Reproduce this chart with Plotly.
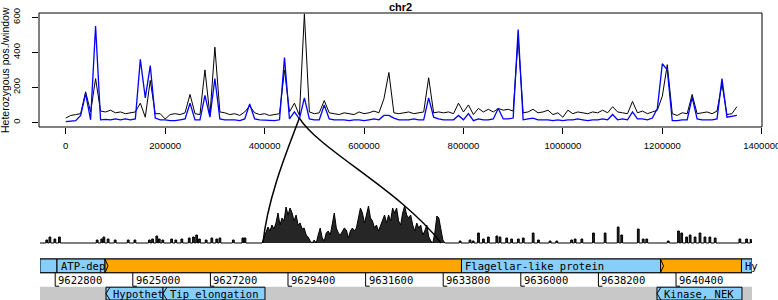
import plotly.graph_objects as go

W, H = 778, 300

# ---------------- top panel: heterozygous positions per 10 kb window ----------------
win_pos = list(range(0, 1350001, 10000))
black_vals = [25, 40, 45, 50, 175, 60, 250, 65, 60, 70,
              55, 60, 50, 55, 60, 110, 30, 240, 50, 50,
              20, 45, 50, 45, 55, 160, 50, 45, 300, 40,
              430, 60, 55, 45, 50, 40, 60, 95, 55, 45,
              50, 40, 45, 50, 300, 60, 110, 40, 620, 60,
              50, 55, 125, 55, 50, 45, 55, 50, 45, 60,
              50, 55, 65, 55, 135, 285, 55, 50, 55, 60,
              50, 55, 60, 255, 55, 60, 55, 60, 50, 110,
              60, 100, 45, 80, 60, 75, 60, 80, 70, 75,
              65, 480, 55, 60, 75, 55, 60, 70, 45, 55,
              30, 70, 50, 60, 55, 50, 60, 55, 70, 55,
              90, 60, 55, 50, 120, 55, 65, 50, 60, 70,
              150, 330, 50, 40, 55, 50, 160, 50, 55, 60,
              50, 65, 220, 45, 50, 90]
blue_vals = [5, 8, 10, 40, 165, 15, 550, 15, 18, 15,
             20, 15, 20, 15, 20, 360, 140, 325, 25, 15,
             15, 10, 10, 15, 20, 110, 15, 15, 155, 30,
             250, 20, 15, 15, 15, 10, 20, 105, 20, 15,
             15, 12, 10, 15, 370, 20, 60, 20, 140, 20,
             15, 15, 100, 20, 15, 15, 15, 10, 15, 15,
             10, 15, 20, 15, 40, 40, 25, 15, 15, 15,
             20, 15, 15, 140, 30, 20, 15, 15, 15, 40,
             15, 50, 10, 20, 15, 15, 20, 80, 20, 20,
             25, 530, 15, 20, 25, 15, 15, 15, 10, 15,
             10, 15, 15, 20, 15, 10, 15, 15, 20, 15,
             45, 15, 20, 15, 60, 20, 20, 15, 25, 80,
             335, 300, 10, 10, 15, 15, 145, 20, 15, 15,
             15, 20, 250, 30, 35, 40]
top_xticks = [0, 200000, 400000, 600000, 800000, 1000000, 1200000, 1400000]
top_yticks = [0, 200, 400, 600]
chrom_name = "chr2"
zoom_anchor = (470000, 25)   # where the zoom lines leave the top panel

# ---------------- lower panel: zoomed region (genomic coordinates) ----------------
view_bp = [9622369, 9642554]
sparse_pos = [9622560, 9622650, 9622790, 9622920, 9623990, 9624120, 9624180, 9624300,
              9624500, 9624870, 9625060, 9625470, 9625560, 9625680, 9625750, 9625850,
              9626100, 9626220, 9626390, 9626600, 9626720, 9626810, 9626890, 9627080,
              9627240, 9627380, 9627470, 9627850, 9628120, 9628180,
              9634280, 9634560, 9634650, 9634800, 9634940, 9635080, 9635320, 9635410,
              9635600, 9635740, 9635930, 9636070, 9636350, 9636500, 9636830, 9637020,
              9637440, 9637540, 9637730, 9638060, 9638390, 9638760, 9638860, 9639330,
              9639470, 9639570, 9640180, 9640470, 9640560, 9640700, 9640800, 9640940,
              9641080, 9641220, 9641360, 9641510, 9642210, 9642400, 9642530]
sparse_h = [3, 6, 4, 6, 3, 4, 6, 4,
            3, 3, 3, 3, 4, 7, 4, 3,
            4, 3, 4, 5, 6, 8, 4, 3,
            5, 4, 5, 3, 5, 5,
            2, 3, 2, 10, 4, 6, 7, 6,
            5, 4, 4, 5, 10, 3, 2, 2,
            3, 4, 4, 10, 10, 16, 8, 14,
            4, 4, 2, 12, 10, 6, 8, 6,
            10, 6, 6, 5, 4, 4, 4]
dense_start, dense_step = 9628660, 57
dense_vals = [0, 5, 10, 16, 12, 18, 14, 20, 30, 18,
              25, 22, 36, 28, 35, 30, 22, 28, 18, 20,
              14, 15, 8, 6, 2, 0, 3, 0, 8, 15,
              5, 2, 10, 12, 8, 20, 30, 15, 10, 8,
              12, 15, 13, 5, 12, 15, 12, 15, 25, 35,
              30, 20, 28, 37, 25, 22, 15, 18, 12, 18,
              22, 28, 20, 28, 22, 35, 30, 35, 22, 18,
              30, 37, 28, 25, 28, 18, 12, 20, 15, 18,
              8, 12, 18, 6, 2, 0, 10, 27, 25, 12,
              3, 0]
zoom_region = [9628690, 9633740]

# ---------------- gene track ----------------
g_start = [9622369, 9622851, 9624212, 9634318, 9639960, 9642256, 9624240, 9625856, 9639860]
g_end = [9622851, 9624212, 9634318, 9639960, 9642256, 9642554, 9625856, 9628748, 9642270]
g_label = ["", "ATP-dep", "", "Flagellar-like protein", "", "Hy", "Hypothet", "Tip elongation", "Kinase, NEK"]
g_row = [1, 1, 1, 1, 1, 1, 3, 3, 3]
g_color = ["#87CEFA", "#87CEFA", "#FFA500", "#87CEFA", "#FFA500", "#87CEFA", "#87CEFA", "#87CEFA", "#87CEFA"]
g_arrow = ["", "", ">", "", ">", "", "<", "<", "<"]
coord_ticks = [9622800, 9625000, 9627200, 9629400, 9631600, 9633800, 9636000, 9638200, 9640400]
coord_labels = ["9622800", "9625000", "9627200", "9629400", "9631600", "9633800", "9636000", "9638200", "9640400"]

# ---------------- layout geometry ----------------
X1_DOM = [39 / W, 762 / W]
Y1_DOM = [1 - 127 / H, 1 - 13 / H]
X1_RNG = [-53800, 1400500]
Y1_RNG = [-26, 625]
X2_DOM = [40 / W, 752 / W]
Y2_DOM = [1 - 244 / H, 1 - 195 / H]
Y2_RNG = [-1, 48]
ROWS = {1: (1 - 272.7 / H, 1 - 259 / H), 2: (1 - 286.7 / H, 1 - 272.7 / H), 3: (0, 1 - 286.7 / H)}


def to_paper(v, dom, rng):
    return dom[0] + (v - rng[0]) / (rng[1] - rng[0]) * (dom[1] - dom[0])


fig = go.Figure()
fig.add_trace(go.Scatter(x=win_pos, y=black_vals, mode="lines",
                         line=dict(color="black", width=1), xaxis="x", yaxis="y"))
fig.add_trace(go.Scatter(x=win_pos, y=blue_vals, mode="lines",
                         line=dict(color="#0000FF", width=1.3), xaxis="x", yaxis="y"))

# lower panel line
pts = [(view_bp[0], 0), (view_bp[1], 0)]
for p, h in zip(sparse_pos, sparse_h):
    pts += [(p - 25, 0), (p - 25, h), (p + 25, h), (p + 25, 0)]
for i, v in enumerate(dense_vals):
    pts.append((dense_start + i * dense_step, v))
pts.sort(key=lambda t: t[0])
fig.add_trace(go.Scatter(x=[p[0] for p in pts], y=[p[1] for p in pts], mode="lines",
                         fill="tozeroy", fillcolor="rgba(0,0,0,0.85)",
                         line=dict(color="black", width=1), xaxis="x2", yaxis="y2"))

shapes = []
# box around top panel
shapes.append(dict(type="rect", xref="paper", yref="paper", x0=X1_DOM[0], x1=X1_DOM[1],
                   y0=Y1_DOM[0], y1=Y1_DOM[1], line=dict(color="black", width=1)))

# zoom connector curves
ax = to_paper(zoom_anchor[0], X1_DOM, X1_RNG)
ay = to_paper(zoom_anchor[1], Y1_DOM, Y1_RNG)
lx = to_paper(zoom_region[0], X2_DOM, view_bp)
rx = to_paper(zoom_region[1], X2_DOM, view_bp)
by = to_paper(0, Y2_DOM, Y2_RNG)
def off(x, y, dx, dy):
    return x + dx / W, y - dy / H
l1 = off(ax, ay, -10, 27); l2 = off(lx, by, 5, -48)
r1 = off(ax, ay, 20, 32); r2 = off(rx, by, -41, -53)
shapes.append(dict(type="path", xref="paper", yref="paper",
                   path=f"M{ax},{ay} C{l1[0]},{l1[1]} {l2[0]},{l2[1]} {lx},{by}",
                   line=dict(color="black", width=1.5)))
shapes.append(dict(type="path", xref="paper", yref="paper",
                   path=f"M{ax},{ay} C{r1[0]},{r1[1]} {r2[0]},{r2[1]} {rx},{by}",
                   line=dict(color="black", width=1.5)))

# gene track backgrounds
shapes.append(dict(type="rect", xref="x2", yref="paper", x0=view_bp[0], x1=view_bp[1],
                   y0=ROWS[3][0], y1=ROWS[3][1], fillcolor="#C8C8C8", line=dict(width=0), layer="below"))
shapes.append(dict(type="rect", xref="x2", yref="paper", x0=view_bp[0], x1=view_bp[1],
                   y0=ROWS[1][0], y1=ROWS[1][1], fillcolor="#FFA500", line=dict(color="black", width=1)))

annotations = []
bp_per_px = (view_bp[1] - view_bp[0]) / (X2_DOM[1] - X2_DOM[0]) / W
for s, e, lab, row, col, arr in zip(g_start, g_end, g_label, g_row, g_color, g_arrow):
    y0, y1 = ROWS[row]
    if row == 3:
        y1 = y1 - 0.5 / H
    shapes.append(dict(type="rect", xref="x2", yref="paper", x0=s, x1=e, y0=y0, y1=y1,
                       fillcolor=col, line=dict(color="black", width=1)))
    tx = s + 2 * bp_per_px
    if arr == ">":
        a = s + 3 * bp_per_px
        shapes.append(dict(type="path", xref="x2", yref="paper",
                           path=f"M{s},{y1} L{a},{(y0 + y1) / 2} L{s},{y0}",
                           line=dict(color="black", width=1)))
    elif arr == "<":
        a = s + 4 * bp_per_px
        shapes.append(dict(type="path", xref="x2", yref="paper",
                           path=f"M{a},{y1} L{s},{(y0 + y1) / 2} L{a},{y0}",
                           line=dict(color="black", width=1)))
        tx = s + 5 * bp_per_px
    if lab:
        annotations.append(dict(x=tx, y=(y0 + y1) / 2, xref="x2", yref="paper", text=lab,
                                showarrow=False, xanchor="left", yanchor="middle",
                                font=dict(family="DejaVu Sans Mono", size=10.5, color="black")))

# coordinate ruler
r0, r1_ = ROWS[2]
for t, lab in zip(coord_ticks, coord_labels):
    shapes.append(dict(type="line", xref="x2", yref="paper", x0=t, x1=t, y0=r0 + 0.5 / H, y1=r1_,
                       line=dict(color="black", width=1)))
    shapes.append(dict(type="line", xref="x2", yref="paper", x0=t, x1=t + 4 * bp_per_px,
                       y0=r0 + 0.5 / H, y1=r0 + 0.5 / H, line=dict(color="black", width=1)))
    annotations.append(dict(x=t + 1 * bp_per_px, y=(r0 + r1_) / 2, xref="x2", yref="paper", text=lab,
                            showarrow=False, xanchor="left", yanchor="middle",
                            font=dict(family="DejaVu Sans Mono", size=10.5, color="black")))

annotations.append(dict(x=(X1_DOM[0] + X1_DOM[1]) / 2, y=1 - 7 / H, xref="paper", yref="paper",
                        text=f"<b>{chrom_name}</b>", showarrow=False, xanchor="center", yanchor="middle",
                        font=dict(family="Liberation Sans", size=11, color="black")))
annotations.append(dict(x=5 / W, y=1 - 70 / H, xref="paper", yref="paper",
                        text="Heterozygous pos./window", textangle=-90, showarrow=False,
                        xanchor="center", yanchor="middle",
                        font=dict(family="Liberation Sans", size=10.5, color="black")))

tickfont = dict(family="Liberation Sans", size=9.5, color="black")
fig.update_layout(
    width=W, height=H, margin=dict(l=0, r=0, t=0, b=0, autoexpand=False),
    paper_bgcolor="white", plot_bgcolor="white", showlegend=False,
    xaxis=dict(domain=X1_DOM, range=X1_RNG, anchor="y", tickvals=top_xticks,
               ticktext=[str(v) for v in top_xticks], ticks="outside", ticklen=6, tickcolor="black",
               ticklabelstandoff=4, ticklabeloverflow="allow",
               showgrid=False, zeroline=False, showline=False, tickfont=tickfont, automargin=False),
    yaxis=dict(domain=Y1_DOM, range=Y1_RNG, anchor="x", tickvals=top_yticks,
               ticktext=[str(v) for v in top_yticks], ticks="outside", ticklen=6, tickcolor="black",
               tickangle=-90, ticklabelstandoff=8, showgrid=False, zeroline=False, showline=False,
               tickfont=tickfont, automargin=False),
    xaxis2=dict(domain=X2_DOM, range=view_bp, anchor="y2", visible=False, automargin=False),
    yaxis2=dict(domain=Y2_DOM, range=Y2_RNG, anchor="x2", visible=False, automargin=False),
    shapes=shapes, annotations=annotations,
)
fig.write_html("out.html", config={"displayModeBar": False},
               post_script="document.body.style.margin='0';")
